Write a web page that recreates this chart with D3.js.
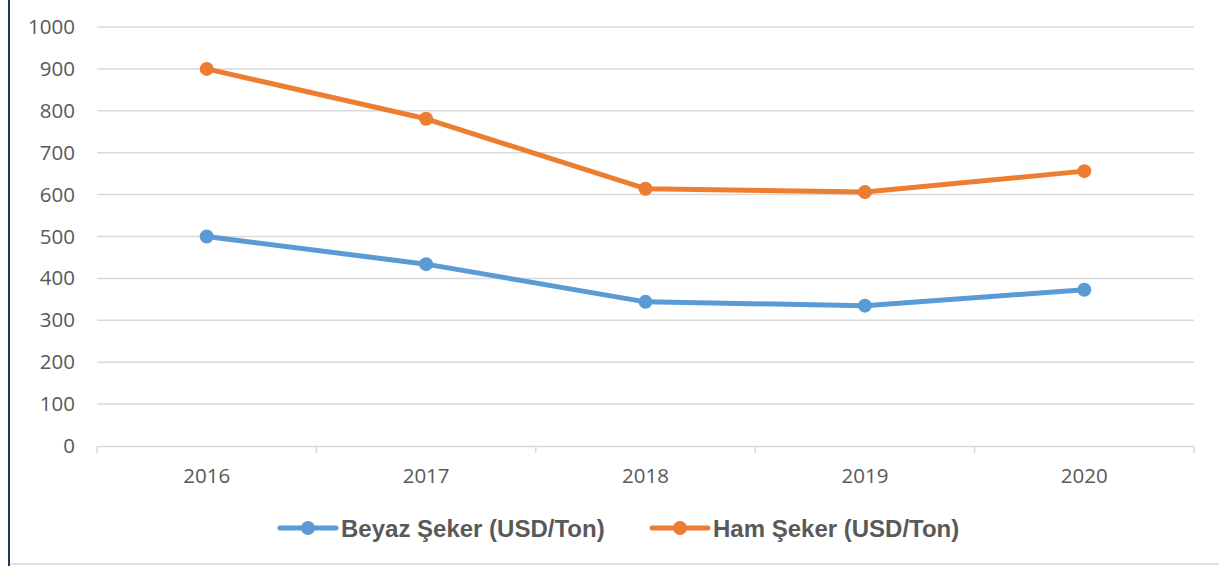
<!DOCTYPE html>
<html><head><meta charset="utf-8">
<script src="https://cdn.jsdelivr.net/npm/d3@7"></script>
<style>body{margin:0;background:#fff;}svg{display:block;}</style>
</head><body>
<script>
const years = ["2016","2017","2018","2019","2020"];
const beyaz = [500, 434, 344, 335, 373];
const ham = [900, 781, 614, 606, 656];
const yTicks = [0,100,200,300,400,500,600,700,800,900,1000];
const seriesNames = ["Beyaz Şeker (USD/Ton)", "Ham Şeker (USD/Ton)"];
const colors = ["#5b9bd5", "#ed7d31"];

(function(){
const W = 1219, H = 566;
const svg = d3.select("body").append("svg").attr("width", W).attr("height", H);
svg.append("rect").attr("width", W).attr("height", H).attr("fill", "#fff");
// frame
svg.append("line").attr("x1", 9).attr("x2", 9).attr("y1", 0).attr("y2", H).attr("stroke", "#1f3864").attr("stroke-width", 2);
svg.append("line").attr("x1", 10).attr("x2", W).attr("y1", 564).attr("y2", 564).attr("stroke", "#d9d9d9").attr("stroke-width", 1.5);

const mLeft = 97, mRight = 1194, mTop = 27, mBottom = 446;
const x = d3.scaleBand().domain(years).range([mLeft, mRight]);
const y = d3.scaleLinear().domain([0, 1000]).range([mBottom, mTop]);
const tickFont = "'Open Sans', Carlito, sans-serif";

// gridlines
svg.append("g").selectAll("line").data(yTicks.filter(d => d > 0)).join("line")
  .attr("x1", mLeft).attr("x2", mRight).attr("y1", d => y(d)).attr("y2", d => y(d))
  .attr("stroke", "#d9d9d9").attr("stroke-width", 1.5);

// y axis labels
const yAxis = d3.axisLeft(y).tickValues(yTicks).tickFormat(d3.format("d")).tickSize(0).tickPadding(22);
const gy = svg.append("g").attr("transform", `translate(${mLeft},0)`).call(yAxis);
gy.select(".domain").remove();
gy.selectAll("text").attr("fill", "#595959").attr("font-size", 20.5).attr("font-family", tickFont);

// x axis
const xAxis = d3.axisBottom(x).tickSize(0).tickPadding(22);
const gx = svg.append("g").attr("transform", `translate(0,${mBottom})`).call(xAxis);
gx.select(".domain").attr("stroke", "#d9d9d9").attr("stroke-width", 1.5);
gx.selectAll("text").attr("fill", "#595959").attr("font-size", 20.5).attr("font-family", tickFont);
const bounds = years.map(d => x(d)).concat([mRight]);
gx.append("g").selectAll("line").data(bounds).join("line")
  .attr("x1", d => d).attr("x2", d => d).attr("y1", 0).attr("y2", 7)
  .attr("stroke", "#d9d9d9").attr("stroke-width", 1.5);

const cx = d => x(d) + x.bandwidth() / 2;
const line = d3.line().x((d, i) => cx(years[i])).y(d => y(d));
[beyaz, ham].forEach((s, k) => {
  svg.append("path").datum(s).attr("d", line).attr("fill", "none")
    .attr("stroke", colors[k]).attr("stroke-width", 5).attr("stroke-linejoin", "round").attr("stroke-linecap", "round");
  svg.append("g").selectAll("circle").data(s).join("circle")
    .attr("cx", (d, i) => cx(years[i])).attr("cy", d => y(d)).attr("r", 7).attr("fill", colors[k]);
});

// legend
const legX = [280, 652];
seriesNames.forEach((n, k) => {
  const g = svg.append("g").attr("transform", `translate(${legX[k]},528)`);
  g.append("line").attr("x1", 0).attr("x2", 56).attr("y1", 0).attr("y2", 0)
    .attr("stroke", colors[k]).attr("stroke-width", 5).attr("stroke-linecap", "round");
  g.append("circle").attr("cx", 28).attr("cy", 0).attr("r", 7).attr("fill", colors[k]);
  g.append("text").attr("x", 61).attr("y", 8.5).text(n)
    .attr("fill", "#595959").attr("font-size", 24).attr("font-weight", "bold")
    .attr("font-family", "'Liberation Sans', Arial, sans-serif");
});
})();
</script>
</body></html>
